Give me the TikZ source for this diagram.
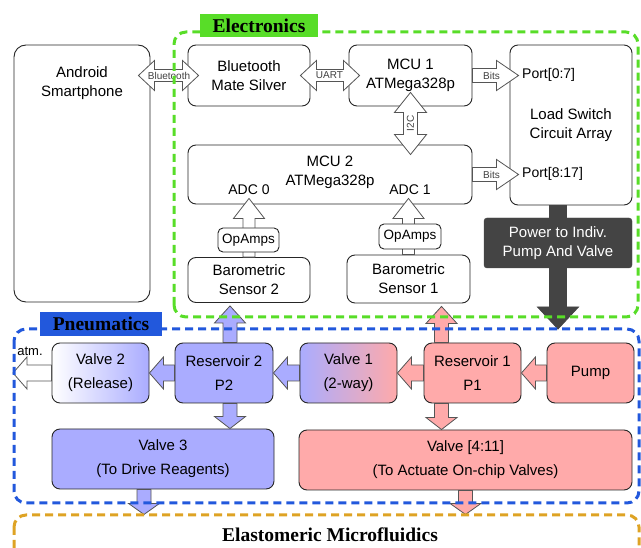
\documentclass[tikz,border=0pt]{standalone}
\usepackage{fontspec}
\setmainfont{Liberation Sans}
\newfontfamily\titlefont{Liberation Serif}
\usetikzlibrary{calc}
\definecolor{elecgreen}{RGB}{88,221,40}
\definecolor{pneublue}{RGB}{34,88,220}
\definecolor{microorange}{RGB}{222,163,36}
\definecolor{lowblue}{RGB}{170,172,255}
\definecolor{highpink}{RGB}{255,170,170}
\definecolor{arrowgray}{RGB}{85,85,85}
\definecolor{powergray}{RGB}{68,68,68}
\tikzset{
  ebox/.style={draw=black!85,line width=0.9pt,rounded corners=8pt,fill=white,align=center,inner sep=0pt,font=\fontsize{15}{19}\selectfont},
  opbox/.style={ebox,rounded corners=5pt,font=\fontsize{13.5}{16}\selectfont},
  pbox/.style={ebox,font=\fontsize{15}{24}\selectfont},
  boxtext/.style={align=center,inner sep=0pt,font=\fontsize{15}{19}\selectfont},
  porttext/.style={inner sep=0pt,font=\fontsize{14}{16}\selectfont},
  tagtext/.style={inner sep=0pt,text=black!75,font=\fontsize{10}{12}\selectfont},
  arrowline/.style={draw=arrowgray,line width=0.8pt,fill=white,line join=miter},
  zone/.style={line width=3pt,dash pattern=on 8pt off 5pt,rounded corners=12pt},
  zonetitle/.style={inner sep=0pt,font=\titlefont\bfseries\fontsize{19.5}{22}\selectfont},
}
% block arrows: [style]{from}{to}{half shaft}{half head}{head length}
\newcommand{\blockarrow}[6][]{%
  \path[arrowline,#1] let \p1=(#2), \p2=(#3),
    \n1={atan2(\y2-\y1,\x2-\x1)}, \n2={veclen(\x2-\x1,\y2-\y1)} in
    [shift={(\p1)},rotate=\n1]
    (0,-#4) -- ({\n2-#6},-#4) -- ({\n2-#6},-#5) -- (\n2,0)
    -- ({\n2-#6},#5) -- ({\n2-#6},#4) -- (0,#4) -- cycle;}
\newcommand{\dblockarrow}[6][]{%
  \path[arrowline,#1] let \p1=(#2), \p2=(#3),
    \n1={atan2(\y2-\y1,\x2-\x1)}, \n2={veclen(\x2-\x1,\y2-\y1)} in
    [shift={(\p1)},rotate=\n1]
    (0,0) -- (#6,-#5) -- (#6,-#4) -- ({\n2-#6},-#4) -- ({\n2-#6},-#5) -- (\n2,0)
    -- ({\n2-#6},#5) -- ({\n2-#6},#4) -- (#6,#4) -- (#6,#5) -- cycle;}

\begin{document}
\begin{tikzpicture}[x=1pt,y=-1pt]
\clip (0,0) rectangle (641,548);

% electronics
\node (android) at (82,173.5) [ebox,rounded corners=12pt,minimum width=136pt,minimum height=257pt] {};
\node (androidtext) at (82,83) [boxtext] {Android\\Smartphone};
\node (btmate) at (249,75.5) [ebox,minimum width=122pt,minimum height=61pt] {Bluetooth\\Mate Silver};
\node (mcu1) at (410.5,75.5) [ebox,minimum width=123pt,minimum height=61pt] {MCU 1\\ATMega328p};
\node (loadsw) at (571,125) [ebox,minimum width=122pt,minimum height=160pt] {Load Switch\\Circuit Array};
\node (port1) at (522,75) [porttext,anchor=west] {Port[0:7]};
\node (port2) at (522,174) [porttext,anchor=west] {Port[8:17]};
\node (mcu2) at (330,174.5) [ebox,minimum width=284pt,minimum height=59pt] {};
\node (mcu2text) at (330,172) [boxtext] {MCU 2\\ATMega328p};
\node (adc0) at (249,190) [porttext] {ADC 0};
\node (adc1) at (410,190) [porttext] {ADC 1};
\node (baro2) at (249,280) [ebox,minimum width=122pt,minimum height=45pt] {Barometric\\Sensor 2};
\node (baro1) at (408.5,279) [ebox,minimum width=123pt,minimum height=48pt] {Barometric\\Sensor 1};

\dblockarrow{$(android.east |- btmate.west)+(-12,0)$}{$(btmate.west)+(11,0)$}{6}{15}{16}
\node (bttag) at ($(android.east |- btmate.west)!0.5!(btmate.west)$) [tagtext] {Bluetooth};
\dblockarrow{$(btmate.east)+(-10,0)$}{$(mcu1.west)+(11,0)$}{6}{15}{16}
\node (uarttag) at ($(btmate.east)!0.5!(mcu1.west)$) [tagtext] {UART};
\blockarrow{mcu1.east}{$(loadsw.west |- mcu1.east)+(9,0)$}{7}{15}{22}
\node (bitstag1) at ($(mcu1.east)+(19,0)$) [tagtext] {Bits};
\blockarrow{mcu2.east}{$(loadsw.west |- mcu2.east)+(9,0)$}{7}{15}{22}
\node (bitstag2) at ($(mcu2.east)+(19,0)$) [tagtext] {Bits};
\dblockarrow{$(mcu1.south)+(0,-14)$}{$(mcu1.south |- mcu2.north)+(0,10)$}{7}{16}{20}
\node (i2ctag) at ($(mcu1.south)!0.5!(mcu1.south |- mcu2.north)+(0,-2)$) [tagtext,rotate=90] {I2C};
\blockarrow{baro2.north}{$(baro2.north |- mcu2.south)+(0,-6)$}{6}{15.5}{20}
\blockarrow{baro1.north}{$(baro1.north |- mcu2.south)+(0,-6)$}{6}{15.5}{20}
\node (opamp2) at (248.5,240) [opbox,minimum width=61pt,minimum height=24pt] {OpAmps};
\node (opamp1) at (410,236.5) [opbox,minimum width=62pt,minimum height=25pt] {OpAmps};

% pneumatics
\node (valve2) at (100.5,373) [pbox,left color=white,right color=lowblue,minimum width=97pt,minimum height=60pt] {Valve 2\\(Release)};
\node (res2) at (224,373) [pbox,fill=lowblue,minimum width=98pt,minimum height=60pt] {Reservoir 2\\P2};
\node (valve1) at (348.5,373) [pbox,left color=lowblue,right color=highpink,minimum width=97pt,minimum height=60pt] {Valve 1\\(2-way)};
\node (res1) at (472.5,373) [pbox,fill=highpink,minimum width=97pt,minimum height=60pt] {Reservoir 1\\P1};
\node (pump) at (590.5,373) [pbox,fill=highpink,minimum width=87pt,minimum height=60pt] {Pump};
\node (valve3) at (163,459) [pbox,fill=lowblue,minimum width=222pt,minimum height=60pt] {Valve 3\\(To Drive Reagents)};
\node (valve411) at (465.5,460) [pbox,fill=highpink,minimum width=333pt,minimum height=60pt] {Valve [4:11]\\(To Actuate On-chip Valves)};
\coordinate (atmpoint) at (13,373);
\node (atmtext) at (30,351) [porttext,font=\fontsize{13}{15}\selectfont] {atm.};

\blockarrow[fill=highpink]{pump.west}{res1.east}{8}{16}{14}
\blockarrow[fill=highpink]{res1.west}{valve1.east}{8}{16}{14}
\blockarrow[fill=lowblue]{valve1.west}{res2.east}{8}{16}{14}
\blockarrow[fill=lowblue]{res2.west}{valve2.east}{8}{16}{14}
\blockarrow{valve2.west}{atmpoint}{8}{16}{14}
\blockarrow[fill=lowblue]{$(res2.north)+(6,0)$}{$(res2.north |- baro2.south)+(6,3)$}{7}{15.5}{17}
\blockarrow[fill=highpink]{$(res1.north)+(-31,0)$}{$(res1.north |- baro1.south)+(-31,3)$}{7}{15.5}{17}
\blockarrow[fill=lowblue]{$(res2.south)+(6,0)$}{$(res2.south |- valve3.north)+(6,0)$}{7}{15.5}{12}
\blockarrow[fill=highpink]{$(res1.south)+(-31,0)$}{$(res1.south |- valve411.north)+(-31,0)$}{7}{15.5}{12}
\blockarrow[fill=lowblue]{$(valve3.south)+(-19,0)$}{$(valve3.south)+(-19,25)$}{7}{15.5}{11}
\blockarrow[fill=highpink]{valve411.south}{$(valve411.south)+(0,24)$}{7}{15.5}{11}

% power line to the pneumatics
\coordinate (powertip) at (558,329);
\blockarrow[draw=powergray,fill=powergray]{powertip |- loadsw.south}{powertip}{8.5}{20.5}{22}
\node (powerbox) at (558,243) [draw=powergray,fill=powergray,rounded corners=3pt,minimum width=148pt,minimum height=50pt,inner sep=0pt,align=center,text=white,font=\fontsize{15}{18.5}\selectfont] {Power to Indiv.\\Pump And Valve};

% zones
\draw[zone,elecgreen] (174,317) rectangle (638,32);
\draw[zone,pneublue] (14,329) rectangle (639,503);
\draw[zone,microorange] (14,515) rectangle (639,580);
\node (electitle) at (259,25.5) [zonetitle,fill=elecgreen,minimum width=118pt,minimum height=23pt] {Electronics};
\node (pneutitle) at (101,324) [zonetitle,fill=pneublue,minimum width=122pt,minimum height=24pt] {Pneumatics};
\node (microtitle) at (330,535) [zonetitle] {Elastomeric Microfluidics};
\end{tikzpicture}
\end{document}
